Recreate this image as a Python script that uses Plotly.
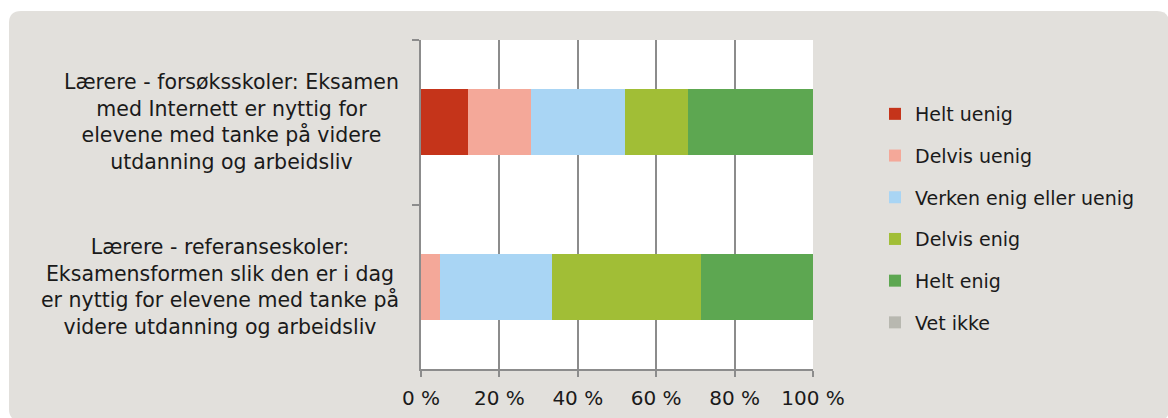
import plotly.graph_objects as go

categories = [
    "Lærere - forsøksskoler: Eksamen<br>med Internett er nyttig for<br>elevene med tanke på videre<br>utdanning og arbeidsliv",
    "Lærere - referanseskoler:<br>Eksamensformen slik den er i dag<br>er nyttig for elevene med tanke på<br>videre utdanning og arbeidsliv",
]
series_names = ["Helt uenig", "Delvis uenig", "Verken enig eller uenig", "Delvis enig", "Helt enig", "Vet ikke"]
helt_uenig = [12.0, 0.0]
delvis_uenig = [16.0, 4.8]
verken = [24.0, 28.6]
delvis_enig = [16.0, 38.1]
helt_enig = [32.0, 28.5]
vet_ikke = [0.0, 0.0]
series_values = [helt_uenig, delvis_uenig, verken, delvis_enig, helt_enig, vet_ikke]
colors = ["#C5341A", "#F4A899", "#A9D5F4", "#A1BE36", "#5DA751", "#B8B8B0"]
x_ticks = [0, 20, 40, 60, 80, 100]
x_ticktext = ["0 %", "20 %", "40 %", "60 %", "80 %", "100 %"]

W, H = 1168, 418
ML, MR, MT, MB = 421, 355, 40, 49
PW, PH = W - ML - MR, H - MT - MB

def px2x(px):
    return (px - ML) / PW

def px2y(py):
    return (H - MB - py) / PH

FONT = "DejaVu Sans"
TXT = "#1a1a1a"
GRID = "#8c8c8c"

fig = go.Figure()
for name, vals, col in zip(series_names, series_values, colors):
    fig.add_trace(go.Bar(
        name=name, y=categories, x=vals, orientation="h",
        marker=dict(color=col, line=dict(width=0)),
        legendgroup=name,
    ))

# rounded background panel
x0, y0, x1, y1, r = 9, 11, 1169, 421, 12
path = (
    f"M {px2x(x0+r)},{px2y(y0)} L {px2x(x1-r)},{px2y(y0)} "
    f"Q {px2x(x1)},{px2y(y0)} {px2x(x1)},{px2y(y0+r)} "
    f"L {px2x(x1)},{px2y(y1-r)} Q {px2x(x1)},{px2y(y1)} {px2x(x1-r)},{px2y(y1)} "
    f"L {px2x(x0+r)},{px2y(y1)} Q {px2x(x0)},{px2y(y1)} {px2x(x0)},{px2y(y1-r)} "
    f"L {px2x(x0)},{px2y(y0+r)} Q {px2x(x0)},{px2y(y0)} {px2x(x0+r)},{px2y(y0)} Z"
)
shapes = [
    dict(type="path", path=path, xref="paper", yref="paper", fillcolor="#E2E0DC",
         line=dict(width=0), layer="below"),
    dict(type="rect", x0=0, x1=1, y0=0, y1=1, xref="paper", yref="paper",
         fillcolor="white", line=dict(width=0), layer="below"),
]

annotations = [
    dict(text=c, x=px2x(401), y=c, xref="paper", yref="y", xanchor="right",
         yanchor="middle", align="center", showarrow=False,
         font=dict(family=FONT, size=20.5, color=TXT))
    for c in categories
]

fig.update_layout(
    width=W, height=H,
    margin=dict(l=ML, r=MR, t=MT, b=MB, autoexpand=False),
    barmode="stack", bargap=0.6,
    paper_bgcolor="white", plot_bgcolor="white",
    font=dict(family=FONT, size=19, color=TXT),
    shapes=shapes, annotations=annotations,
    showlegend=True,
    legend=dict(x=px2x(875), y=px2y(95), xanchor="left", yanchor="top",
                bgcolor="rgba(0,0,0,0)", tracegroupgap=14, traceorder="grouped",
                font=dict(family=FONT, size=19, color=TXT)),
    xaxis=dict(range=[0, 100], tickvals=x_ticks, ticktext=x_ticktext,
               showgrid=True, gridcolor=GRID, gridwidth=2, zeroline=False,
               showline=True, linecolor=GRID, linewidth=2,
               ticks="outside", ticklen=6, tickcolor=GRID, tickwidth=2,
               ticklabelstandoff=4, automargin=False,
               tickfont=dict(family=FONT, size=20, color=TXT)),
    yaxis=dict(type="category", categoryarray=categories, autorange="reversed",
               tickson="boundaries", showticklabels=False, showgrid=False,
               showline=True, linecolor=GRID, linewidth=2, automargin=False,
               ticks="outside", ticklen=7, tickcolor=GRID, tickwidth=2, zeroline=False),
)

fig.write_html("out.html", config={"displayModeBar": False},
               post_script="document.body.style.margin='0';")
